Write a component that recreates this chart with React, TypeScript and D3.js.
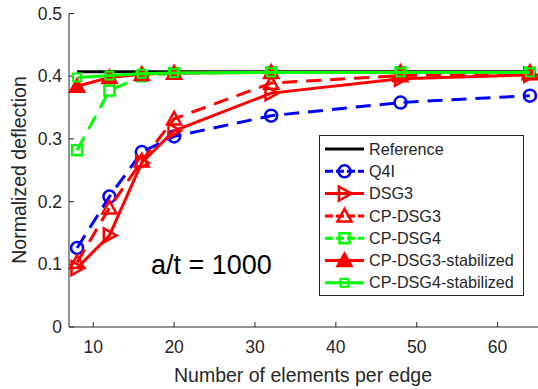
import React from "react";
import * as d3 from "d3";

const xs = [8, 12, 16, 20, 32, 48, 64];
const reference = [0.407, 0.407, 0.407, 0.407, 0.407, 0.407, 0.407];
const q4i = [0.126, 0.208, 0.279, 0.304, 0.337, 0.358, 0.369];
const dsg3 = [0.094, 0.146, 0.262, 0.313, 0.373, 0.396, 0.402];
const cpDsg3 = [0.103, 0.190, 0.265, 0.332, 0.389, 0.401, 0.404];
const cpDsg4 = [0.282, 0.377, 0.400, 0.405, 0.406, 0.406, 0.406];
const cpDsg3Stab = [0.384, 0.398, 0.403, 0.405, 0.406, 0.406, 0.406];
const cpDsg4Stab = [0.398, 0.401, 0.404, 0.405, 0.406, 0.406, 0.406];
const xTicks = [10, 20, 30, 40, 50, 60];
const yTicks = [0, 0.1, 0.2, 0.3, 0.4, 0.5];
const legendLabels = ["Reference", "Q4I", "DSG3", "CP-DSG3", "CP-DSG4", "CP-DSG3-stabilized", "CP-DSG4-stabilized"];

type Marker = "none" | "circle" | "tri-right" | "tri-up" | "tri-up-fill" | "square" | "square-small";

interface Series {
  name: string;
  values: number[];
  color: string;
  dash: string | null;
  marker: Marker;
}

const series: Series[] = [
  { name: legendLabels[0], values: reference, color: "#000000", dash: null, marker: "none" },
  { name: legendLabels[1], values: q4i, color: "#0000ff", dash: "15,9", marker: "circle" },
  { name: legendLabels[2], values: dsg3, color: "#ff0000", dash: null, marker: "tri-right" },
  { name: legendLabels[3], values: cpDsg3, color: "#ff0000", dash: "15,9", marker: "tri-up" },
  { name: legendLabels[4], values: cpDsg4, color: "#00ff00", dash: "15,9", marker: "square" },
  { name: legendLabels[5], values: cpDsg3Stab, color: "#ff0000", dash: null, marker: "tri-up-fill" },
  { name: legendLabels[6], values: cpDsg4Stab, color: "#00ff00", dash: null, marker: "square-small" },
];

const W = 538;
const H = 389;
const FONT = "'Liberation Sans', Arial, Helvetica, sans-serif";
const TXT = "#262626";

const x = d3.scaleLinear().domain([7, 65]).range([69, 538]);
const y = d3.scaleLinear().domain([0, 0.5]).range([327, 13.5]);

function MarkerShape({ m, cx, cy, color }: { m: Marker; cx: number; cy: number; color: string }) {
  const sw = 2.5;
  if (m === "circle") return <circle cx={cx} cy={cy} r={6} fill="none" stroke={color} strokeWidth={sw} />;
  if (m === "square") return <rect x={cx - 5} y={cy - 5} width={10} height={10} fill="none" stroke={color} strokeWidth={sw} />;
  if (m === "square-small") return <rect x={cx - 4} y={cy - 4} width={8} height={8} fill="none" stroke={color} strokeWidth={2} />;
  if (m === "tri-right") {
    const s = 7;
    const pts = `${cx + s},${cy} ${cx - s * 0.8},${cy - s} ${cx - s * 0.8},${cy + s}`;
    return <polygon points={pts} fill="none" stroke={color} strokeWidth={sw} strokeLinejoin="miter" />;
  }
  if (m === "tri-up" || m === "tri-up-fill") {
    const s = 7;
    const pts = `${cx},${cy - s} ${cx - s},${cy + s * 0.8} ${cx + s},${cy + s * 0.8}`;
    return <polygon points={pts} fill={m === "tri-up-fill" ? color : "none"} stroke={color} strokeWidth={sw} />;
  }
  return null;
}

export default function App() {
  const line = d3
    .line<number>()
    .x((_, i) => x(xs[i]))
    .y((d) => y(d));

  const lgX = 319.5;
  const lgY = 135.5;
  const lgW = 204;
  const lgH = 160;
  const rowH = 22.3;

  return (
    <svg width={W} height={H} style={{ position: "absolute", left: 0, top: 0, background: "#fff" }} fontFamily={FONT}>
      <rect x={0} y={0} width={W} height={H} fill="#ffffff" />
      {/* axes */}
      <line x1={69} x2={538} y1={327} y2={327} stroke={TXT} strokeWidth={1} />
      <line x1={69} x2={69} y1={13.5} y2={327} stroke={TXT} strokeWidth={1} />
      {xTicks.map((t) => (
        <g key={"xt" + t}>
          <line x1={x(t)} x2={x(t)} y1={327} y2={322} stroke={TXT} strokeWidth={1} />
          <text x={x(t)} y={353} textAnchor="middle" fontSize={17.5} fill={TXT}>
            {t}
          </text>
        </g>
      ))}
      {yTicks.map((t) => (
        <g key={"yt" + t}>
          <line x1={69} x2={74} y1={y(t)} y2={y(t)} stroke={TXT} strokeWidth={1} />
          <text x={62} y={y(t)} dy="0.35em" textAnchor="end" fontSize={17.5} fill={TXT}>
            {t === 0 ? "0" : t.toFixed(1)}
          </text>
        </g>
      ))}
      <text x={303} y={382} textAnchor="middle" fontSize={19.5} fill={TXT}>
        Number of elements per edge
      </text>
      <text transform={`translate(26,170) rotate(-90)`} textAnchor="middle" fontSize={19.5} fill={TXT}>
        Normalized deflection
      </text>

      {/* series */}
      {series.map((s) => (
        <g key={s.name}>
          <path d={line(s.values) || ""} fill="none" stroke={s.color} strokeWidth={3} strokeDasharray={s.dash || undefined} />
          {s.values.map((v, i) => (
            <MarkerShape key={i} m={s.marker} cx={x(xs[i])} cy={y(v)} color={s.color} />
          ))}
        </g>
      ))}

      <text x={151} y={274} fontSize={27} fill="#000">
        a/t = 1000
      </text>

      {/* legend */}
      <rect x={lgX} y={lgY} width={lgW} height={lgH} fill="#fff" stroke={TXT} strokeWidth={1} />
      {series.map((s, i) => {
        const cy = 149 + i * rowH;
        return (
          <g key={"lg" + s.name}>
            <line x1={325} x2={364} y1={cy} y2={cy} stroke={s.color} strokeWidth={3} strokeDasharray={s.dash ? "8,3" : undefined} />
            <MarkerShape m={s.marker} cx={344.5} cy={cy} color={s.color} />
            <text x={369} y={cy} dy="0.35em" fontSize={16.2} fill={TXT}>
              {s.name}
            </text>
          </g>
        );
      })}
    </svg>
  );
}
